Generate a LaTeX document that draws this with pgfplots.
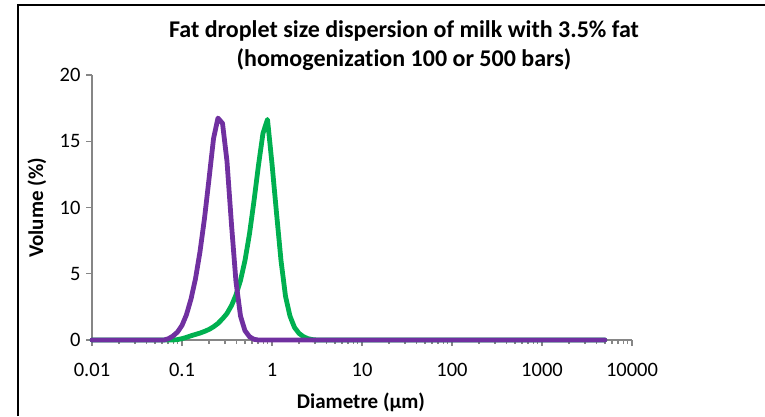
\documentclass[border=0pt]{standalone}
\usepackage{pgfplots}
\pgfplotsset{compat=1.18}
\usepackage{fontspec}
\setmainfont{Carlito}[Ligatures=NoCommon]
\definecolor{xlpurple}{HTML}{7030A0}
\definecolor{xlgreen}{HTML}{00B050}
\definecolor{axgray}{HTML}{868686}
\begin{document}
\begin{tikzpicture}[x=1pt,y=1pt]
\useasboundingbox (0,0) rectangle (765,416);
\draw[line width=2pt,black] (17.5,0) -- (17.5,410.5) -- (765,410.5);
\begin{axis}[
  at={(92pt,76pt)}, anchor=south west,
  scale only axis, width=540pt, height=265pt,
  xmode=log, xmin=0.01, xmax=10000, ymin=0, ymax=20,
  axis lines*=left,
  axis line style={axgray, line width=1.2pt},
  tick style={axgray, line width=1.2pt},
  tick align=outside,
  major tick length=6pt, minor tick length=4pt,
  xtick={0.01,0.1,1,10,100,1000,10000},
  xticklabels={0.01,0.1,1,10,100,1000,10000},
  ytick={0,5,10,15,20},
  /pgf/number format/assume math mode=true,
  ticklabel style={font=\fontsize{20.5}{24}\selectfont, black},
  xticklabel style={yshift=-14pt},
  yticklabel style={xshift=-2pt},
  clip=false,
]
\addplot[xlgreen, line width=4.8pt, line join=round, line cap=round] coordinates {
(0.01,0) (0.0794,0) (0.0891,0.03) (0.1,0.1) (0.112,0.2) (0.126,0.32) (0.141,0.42) (0.158,0.52) (0.178,0.65) (0.2,0.8) (0.224,1.0) (0.251,1.25) (0.282,1.6) (0.316,2.0) (0.355,2.6) (0.398,3.4) (0.447,4.5) (0.501,6.0) (0.562,8.0) (0.631,10.5) (0.708,13.2) (0.794,15.6) (0.891,16.65) (1,13.3) (1.122,9.6) (1.259,6.0) (1.413,3.3) (1.585,1.8) (1.778,0.95) (1.995,0.5) (2.239,0.25) (2.512,0.1) (2.818,0.03) (3.162,0) (5000,0)
};
\addplot[xlpurple, line width=4.8pt, line join=round, line cap=round] coordinates {
(0.01,0) (0.0631,0) (0.0708,0.1) (0.0794,0.3) (0.0891,0.6) (0.1,1.1) (0.112,1.9) (0.126,3.1) (0.141,4.6) (0.158,6.6) (0.178,9.2) (0.2,12.2) (0.224,15.2) (0.251,16.75) (0.282,16.35) (0.316,13.5) (0.355,8.7) (0.398,4.4) (0.447,1.8) (0.501,0.7) (0.562,0.25) (0.631,0.05) (0.708,0) (5000,0)
};
\end{axis}
\node[font=\fontsize{24}{28}\selectfont\bfseries] at (404,385) {Fat droplet size dispersion of milk with 3.5\% fat};
\node[font=\fontsize{24}{28}\selectfont\bfseries] at (404,356) {(homogenization 100 or 500 bars)};
\node[font=\fontsize{21}{25}\selectfont\bfseries, rotate=90] at (37,208) {Volume (\%)};
\node[font=\fontsize{21}{25}\selectfont\bfseries] at (361,14) {Diametre (µm)};
\end{tikzpicture}
\end{document}
